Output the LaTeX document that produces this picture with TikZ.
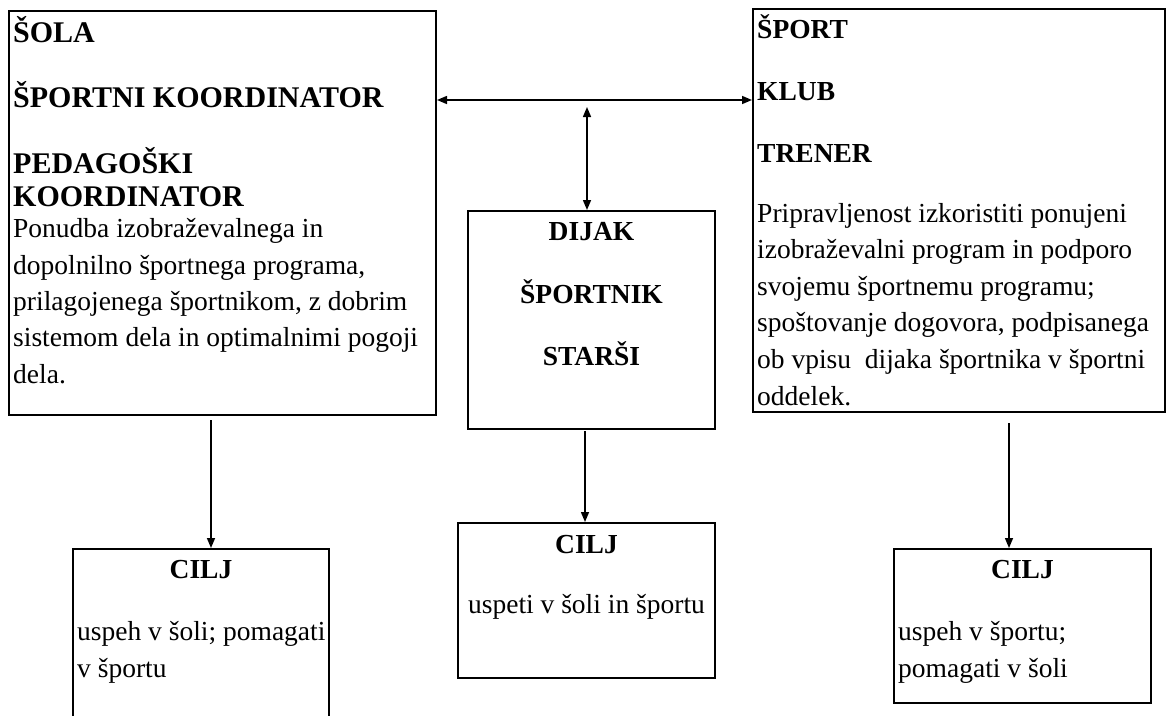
\documentclass[tikz,border=0pt]{standalone}
\usepackage{fontspec}
\setmainfont{Liberation Serif}
\usetikzlibrary{arrows.meta}

\tikzset{
  frame/.style={draw, line width=2pt, inner sep=0pt},
  head/.style={font=\bfseries\fontsize{27.5}{33}\selectfont, inner sep=0pt},
  bighead/.style={font=\bfseries\fontsize{30}{33}\selectfont, inner sep=0pt, align=left},
  body/.style={font=\fontsize{27.5}{36.5}\selectfont, inner sep=0pt, align=left},
  link/.style={line width=1.5pt, -{Triangle[length=10pt,width=8pt]}},
  bilink/.style={line width=1.5pt, {Triangle[length=10pt,width=8pt]}-{Triangle[length=10pt,width=8pt]}}
}

\begin{document}
\begin{tikzpicture}[x=1pt, y=-1pt]
  \useasboundingbox (0,0) rectangle (1166,715);

  % main boxes
  \node[frame, minimum width=427pt, minimum height=404pt] (school) at (222.5,213) {};
  \node[frame, minimum width=247pt, minimum height=218pt] (student) at (591.5,320) {};
  \node[frame, minimum width=412pt, minimum height=403pt] (sport) at (959,210.5) {};

  % goal boxes
  \node[frame, minimum width=256pt, minimum height=191pt] (goalL) at (201,644.5) {};
  \node[frame, minimum width=257pt, minimum height=155pt] (goalM) at (586.5,600.5) {};
  \node[frame, minimum width=257pt, minimum height=154pt] (goalR) at (1022.5,626) {};

  % school box text (multi-line nodes are placed by the baseline of their last line)
  \node[bighead, anchor=base west] (sola) at (13,42) {ŠOLA};
  \node[bighead, anchor=base west] (spkoord) at (13,107) {ŠPORTNI KOORDINATOR};
  \node[bighead, anchor=base west] (pedkoord) at (13,206) {PEDAGOŠKI\\KOORDINATOR};
  \node[body, font=\fontsize{27.5}{36.3}\selectfont, anchor=base west] (offer) at (13,383)
    {Ponudba izobraževalnega in\\dopolnilno športnega programa,\\prilagojenega športnikom, z dobrim\\sistemom dela in optimalnimi pogoji\\dela.};

  % sport box text
  \node[head, anchor=base west] (sp) at (757,38) {ŠPORT};
  \node[head, anchor=base west] (klub) at (757,100) {KLUB};
  \node[head, anchor=base west] (trener) at (757,162) {TRENER};
  \node[body, font=\fontsize{27.5}{36.6}\selectfont, anchor=base west] (ready) at (757,405)
    {Pripravljenost izkoristiti ponujeni\\izobraževalni program in podporo\\svojemu športnemu programu;\\spoštovanje dogovora, podpisanega\\ob vpisu\ \ dijaka športnika v športni\\oddelek.};

  % student box text
  \node[head, anchor=base] (dijak) at (591.5,240) {DIJAK};
  \node[head, anchor=base] (sportnik) at (591.5,303) {ŠPORTNIK};
  \node[head, anchor=base] (starsi) at (591.5,365) {STARŠI};

  % goal texts
  \node[head, anchor=base] (cL) at (201,578) {CILJ};
  \node[body, font=\fontsize{27.5}{37}\selectfont, anchor=base west] (gL) at (77,677) {uspeh v šoli; pomagati\\v športu};
  \node[head, anchor=base] (cM) at (586.5,553) {CILJ};
  \node[body, anchor=base] (gM) at (586.5,613) {uspeti v šoli in športu};
  \node[head, anchor=base] (cR) at (1022.5,578) {CILJ};
  \node[body, font=\fontsize{27.5}{37}\selectfont, anchor=base west] (gR) at (898,677) {uspeh v športu;\\pomagati v šoli};

  % connectors
  \coordinate (hline) at (0,100);
  \draw[bilink] (school.east |- hline) -- (sport.west |- hline);
  \coordinate (vtop) at (587,107);
  \draw[bilink] (vtop) -- (vtop |- student.north);
  \coordinate (lsrc) at (211,420);
  \draw[link] (lsrc) -- (lsrc |- goalL.north);
  \coordinate (msrc) at (585,431);
  \draw[link] (msrc) -- (msrc |- goalM.north);
  \coordinate (rsrc) at (1009,423);
  \draw[link] (rsrc) -- (rsrc |- goalR.north);
\end{tikzpicture}
\end{document}
